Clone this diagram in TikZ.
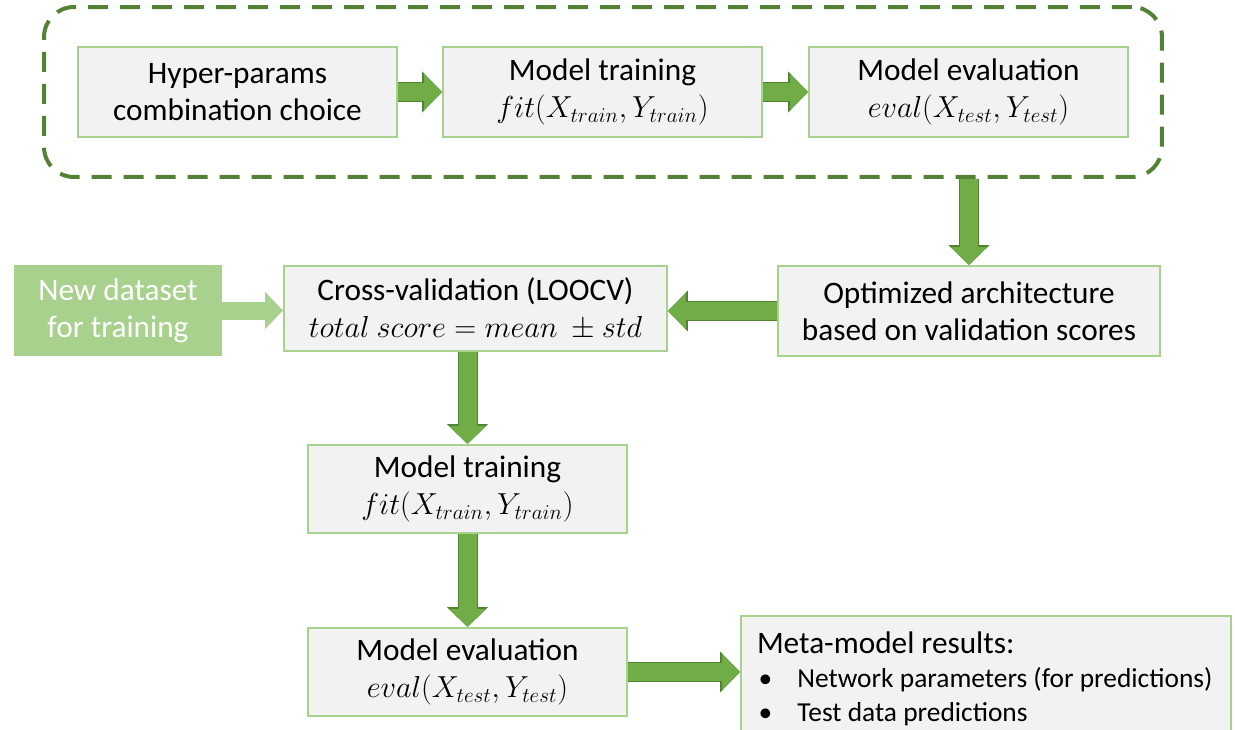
\documentclass[tikz,border=0pt]{standalone}
\usepackage{fontspec}
\setmainfont{Carlito}
\usepackage{amsmath}
\usetikzlibrary{arrows.meta, calc, positioning, fit}
\definecolor{kasten}{HTML}{F2F2F2}
\definecolor{rand}{HTML}{A9D18E}
\definecolor{pfeil}{HTML}{70AD47}
\definecolor{dunkel}{HTML}{548235}
\definecolor{hellgruen}{HTML}{A9D18E}
\newcommand{\kopf}[1]{\mbox{\spaceskip=0pt\xspaceskip=0pt\hspace*{0.07cm}#1}}
\newcommand{\punkt}[1]{\mbox{\fontsize{15.6}{19.3}\selectfont
  \spaceskip=0pt\xspaceskip=0pt%
  \hspace*{0.1cm}\makebox[0.78cm][l]{\textbullet}#1}}

\begin{document}
\begin{tikzpicture}[x=0.02cm, y=-0.02cm,
    box/.style={draw=rand, line width=0.04cm, fill=kasten, align=center,
                inner sep=0pt, minimum width=6.38cm, minimum height=1.8cm,
                font=\fontsize{17.8}{21}\selectfont},
    arrhell/.style={-{Triangle[width=0.72cm, length=0.36cm]}, line width=0.36cm, hellgruen},
    arr/.style={-{Triangle[width=0.72cm, length=0.36cm]}, line width=0.36cm, pfeil,
                preaction={draw=dunkel, line width=0.4cm,
                           -{Triangle[width=0.8cm, length=0.4cm]}}}
  ]
  \useasboundingbox (0,0) rectangle (1235,730);

  % search loop
  \node[box] (hyp) at (237.5,92) {Hyper-params\\combination choice};
  \node[box] (fit1) at (602.5,92) {Model training\\$fit(X_{train},Y_{train})$};
  \node[box] (eval1) at (968.5,92) {Model evaluation\\$eval(X_{test},Y_{test})$};
  \node[draw=dunkel, line width=0.08cm, dash pattern=on 0.4cm off 0.24cm,
        rounded corners=0.6cm, inner xsep=0.66cm, inner ysep=0.78cm,
        fit=(hyp)(eval1)] (loop) {};

  % final model
  \node[box, minimum width=7.64cm] (opt) at (969,311)
    {Optimized architecture\\based on validation scores};
  \node[box, minimum width=7.66cm, minimum height=1.7cm] (cv) at (475.5,308.5)
    {Cross-validation (LOOCV)\\$total\ score = mean\ \pm std$};
  \node[fill=hellgruen, text=white, align=center, inner sep=0pt,
        minimum width=4.16cm, minimum height=1.82cm,
        font=\fontsize{17.8}{21}\selectfont] (neu) at (118,310.5)
    {New dataset\\for training};
  \node[box, minimum height=1.76cm] (fit2) at (467.5,489)
    {Model training\\$fit(X_{train},Y_{train})$};
  \node[box, minimum height=1.76cm] (eval2) at (467.5,672)
    {Model evaluation\\$eval(X_{test},Y_{test})$};
  \node[draw=rand, line width=0.04cm, fill=kasten, anchor=north west,
        align=left, text width=9.3cm, inner xsep=0.25cm, inner ysep=0.32cm,
        text depth=1.3cm, font=\fontsize{17.8}{19.3}\selectfont] (meta) at (740,615)
    {\kopf{Meta-model results:}\\
     \punkt{Network parameters (for predictions)}\\
     \punkt{Test data predictions}};

  \draw[arr] (hyp) -- (fit1);
  \draw[arr] (fit1) -- (eval1);
  \draw[arr] (loop.south -| opt.north) -- (opt.north);
  \draw[arr] (opt.west) -- (opt.west -| cv.east);
  \draw[arrhell] (neu.east) -- (neu.east -| cv.west);
  \draw[arr] (cv.south -| fit2.north) -- (fit2.north);
  \draw[arr] (fit2) -- (eval2);
  \draw[arr] (eval2.east) -- (eval2.east -| meta.west);
\end{tikzpicture}
\end{document}
